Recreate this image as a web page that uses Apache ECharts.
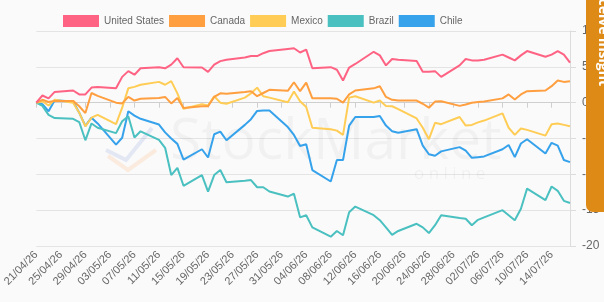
<!DOCTYPE html>
<html>
<head>
<meta charset="utf-8">
<title>Index performance</title>
<script src="https://cdn.jsdelivr.net/npm/echarts@6/dist/echarts.min.js"></script>
<style>
    html, body { margin: 0; padding: 0; background: #fafafa; }
    #main { width: 604px; height: 302px; }
</style>
</head>
<body>
<div id="main"></div>
<script>
    var dates = [
        '21/04/26','22/04/26','23/04/26','24/04/26','25/04/26','26/04/26','27/04/26','28/04/26','29/04/26','30/04/26',
        '01/05/26','02/05/26','03/05/26','04/05/26','05/05/26','06/05/26','07/05/26','08/05/26','09/05/26','10/05/26',
        '11/05/26','12/05/26','13/05/26','14/05/26','15/05/26','16/05/26','17/05/26','18/05/26','19/05/26','20/05/26',
        '21/05/26','22/05/26','23/05/26','24/05/26','25/05/26','26/05/26','27/05/26','28/05/26','29/05/26','30/05/26','31/05/26',
        '01/06/26','02/06/26','03/06/26','04/06/26','05/06/26','06/06/26','07/06/26','08/06/26','09/06/26','10/06/26',
        '11/06/26','12/06/26','13/06/26','14/06/26','15/06/26','16/06/26','17/06/26','18/06/26','19/06/26','20/06/26',
        '21/06/26','22/06/26','23/06/26','24/06/26','25/06/26','26/06/26','27/06/26','28/06/26','29/06/26','30/06/26',
        '01/07/26','02/07/26','03/07/26','04/07/26','05/07/26','06/07/26','07/07/26','08/07/26','09/07/26','10/07/26',
        '11/07/26','12/07/26','13/07/26','14/07/26','15/07/26','16/07/26','17/07/26'
    ];

    // % change since 21/04, one row per week (Tue .. Mon), weekends empty
    var n = null;
    var unitedStates = [
        0, 1.0, 0.6, 1.5, n, n, 1.7,
        1.15, 1.15, 2.1, 2.2, n, n, 2.0,
        3.6, 4.4, 3.9, 4.8, n, n, 4.95,
        4.8, 5.3, 6.2, 4.95, n, n, 4.9,
        4.3, 5.3, 5.8, 6.0, n, n, 6.3,
        6.5, 6.5, 6.9, 7.2, n, n, 7.5,
        7.6, 7.0, 7.4, 4.8, n, n, 4.95,
        4.6, 3.1, 4.9, 5.4, n, n, 7.1,
        6.6, 5.2, 6.1, 6.0, n, n, 5.8,
        4.3, 4.3, 4.4, 3.6, n, n, 5.2,
        6.1, 5.9, 5.9, 6.0, n, n, 6.7,
        6.3, 5.9, 6.6, 7.2, n, n, 6.4,
        6.7, 7.2, 6.7, 5.6
    ];
    var canada = [
        0, 0.4, 0.1, 0.25, n, n, 0.25,
        -0.5, -1.45, 1.35, 0.95, n, n, 0,
        -0.1, 0.8, 0.3, 0.55, n, n, 0.65,
        0.8, -0.1, 0.65, -0.75, n, n, -0.5,
        -0.5, 0.8, 1.3, 1.25, n, n, 1.5,
        1.6, 0.9, 1.35, 1.8, n, n, 1.65,
        2.85, 1.6, 2.8, 0.6, n, n, 0.6,
        0.55, 0, 1.15, 1.7, n, n, 2.0,
        2.3, 0.8, 0.4, 0.3, n, n, 0.3,
        -0.15, -0.7, 0.15, 0.2, n, n, -0.45,
        -0.25, 0, 0.1, 0.15, n, n, 0.6,
        1.15, 0.45, 1.15, 1.6, n, n, 1.7,
        2.3, 3.1, 2.9, 3.0
    ];
    var mexico = [
        0, 0.2, -0.4, 0.4, n, n, 0,
        -1.4, -3.3, -2.1, -1.7, n, n, -3.0,
        -0.7, 2.0, 2.2, 2.5, n, n, 2.9,
        2.5, 3.0, 1.3, -0.85, n, n, -0.2,
        -0.4, 0.9, 0, -0.15, n, n, 0.7,
        1.3, 2.1, 0.9, 0.7, n, n, 0.05,
        1.55, 0.2, -0.6, -3.5, n, n, -3.7,
        -3.9, -4.5, 0.7, 0.9, n, n, 0,
        0.3, -0.45, -0.5, -0.9, n, n, -2.2,
        -3.5, -5.1, -2.8, -3.0, n, n, -2.0,
        -3.2, -3.1, -2.75, -2.5, n, n, -1.5,
        -3.5, -4.5, -3.6, -3.8, n, n, -4.6,
        -3.0, -2.9, -3.1, -3.3
    ];
    var brazil = [
        0, -0.45, -1.7, -2.15, n, n, -2.25,
        -2.7, -5.25, -2.9, -3.5, n, n, -4.25,
        -2.6, -1.9, -4.85, -4.0, n, n, -5.2,
        -6.3, -10.1, -9.1, -11.6, n, n, -10.1,
        -12.4, -10.1, -9.4, -11.1, n, n, -10.9,
        -10.8, -11.8, -11.8, -12.4, n, n, -13.1,
        -12.7, -16.0, -15.7, -17.4, n, n, -18.7,
        -17.9, -18.5, -15.3, -14.5, n, n, -15.7,
        -16.4, -17.4, -18.45, -17.9, n, n, -16.9,
        -17.4, -18.2, -17.1, -15.7, n, n, -16.1,
        -16.2, -17.1, -16.35, -16.0, n, n, -15.0,
        -15.7, -16.4, -14.8, -12.0, n, n, -13.6,
        -11.7, -12.3, -13.7, -14.0
    ];
    var chile = [
        0, -0.2, -1.2, 0.35, n, n, 0.15,
        -1.4, -3.25, -2.1, -2.9, n, n, -5.85,
        -4.9, -1.2, -1.8, -2.25, n, n, -3.05,
        -4.15, -5.0, -5.75, -7.95, n, n, -6.5,
        -7.65, -4.4, -4.05, -5.25, n, n, -3.1,
        -2.3, -1.15, -1.1, -1.1, n, n, -3.4,
        -4.5, -6.05, -5.8, -9.4, n, n, -11.0,
        -8.0, -8.0, -3.2, -2.0, n, n, -2.0,
        -1.85, -3.2, -4.0, -4.2, n, n, -3.7,
        -6.0, -7.2, -7.4, -6.8, n, n, -6.2,
        -6.7, -7.7, -7.6, -7.5, n, n, -6.5,
        -5.9, -7.6, -5.7, -5.1, n, n, -7.1,
        -5.6, -6.0, -8.0, -8.3
    ];

    var names = ['United States', 'Canada', 'Mexico', 'Brazil', 'Chile'];
    var colors = ['#ff6384', '#ff9f40', '#ffcd56', '#4bc0c0', '#36a2eb'];
    var values = [unitedStates, canada, mexico, brazil, chile];

    var series = [];
    for (var k = values.length - 1; k >= 0; k--) {
        series.push({
            name: names[k],
            type: 'line',
            data: values[k],
            connectNulls: true,
            showSymbol: false,
            symbol: 'none',
            lineStyle: { width: 2, color: colors[k] },
            itemStyle: { color: colors[k] }
        });
    }

    var myChart = echarts.init(document.getElementById('main'));
    var option = {
        backgroundColor: '#fafafa',
        animation: false,
        color: colors,
        legend: {
            data: names,
            left: 58,
            top: 10,
            icon: 'rect',
            itemWidth: 36,
            itemHeight: 12,
            itemGap: 5,
            textStyle: { fontSize: 10, color: '#666', fontFamily: 'Liberation Sans' }
        },
        grid: { left: 32, right: 34, top: 31, bottom: 56, containLabel: false },
        xAxis: {
            type: 'category',
            boundaryGap: false,
            data: dates,
            axisLine: { lineStyle: { color: '#cfcfcf' } },
            axisTick: { show: true, interval: 3, length: 5, lineStyle: { color: '#cfcfcf' } },
            axisLabel: { interval: 3, rotate: 45, fontSize: 11, color: '#666', margin: 7, fontFamily: 'Liberation Sans' },
            splitLine: { show: false }
        },
        yAxis: {
            type: 'value',
            position: 'right',
            min: -20,
            max: 10,
            interval: 5,
            axisLine: { show: true, lineStyle: { color: '#dcdcdc' } },
            axisTick: { show: true, length: 6, lineStyle: { color: '#dcdcdc' } },
            axisLabel: { fontSize: 12, color: '#666', margin: 12, fontFamily: 'Liberation Sans' },
            splitLine: { lineStyle: { color: '#e4e4e4' } }
        },
        graphic: [
            // faint watermark
            { type: 'polyline', z: 1, shape: { points: [[106, 150], [126, 160], [152, 128]] },
              style: { stroke: 'rgba(54,100,200,0.12)', lineWidth: 4, fill: null } },
            { type: 'polyline', z: 1, shape: { points: [[108, 156], [128, 170], [156, 150]] },
              style: { stroke: 'rgba(255,150,60,0.14)', lineWidth: 4, fill: null } },
            { type: 'text', z: 1, left: 170, top: 114,
              style: { text: 'StockMarket', fontSize: 57, fontFamily: 'Open Sans', fill: 'rgba(0,0,0,0.035)' } },
            { type: 'text', z: 1, left: 414, top: 166,
              style: { text: 'o n l i n e', fontSize: 17, fontFamily: 'Open Sans', fill: 'rgba(0,0,0,0.04)' } },
            // orange side tab laid over the page
            { type: 'rect', z: 100, shape: { x: 586, y: -10, width: 40, height: 222, r: 7 },
              style: { fill: '#de8a17' } },
            { type: 'text', z: 101, x: 603, y: 86, rotation: -Math.PI / 2,
              style: { text: 'ar and receive insight', fontSize: 14, fontWeight: 'bold',
                       fontFamily: 'Open Sans', fill: '#fff', align: 'right', verticalAlign: 'middle' } }
        ],
        series: series
    };
    myChart.setOption(option);
</script>
</body>
</html>
